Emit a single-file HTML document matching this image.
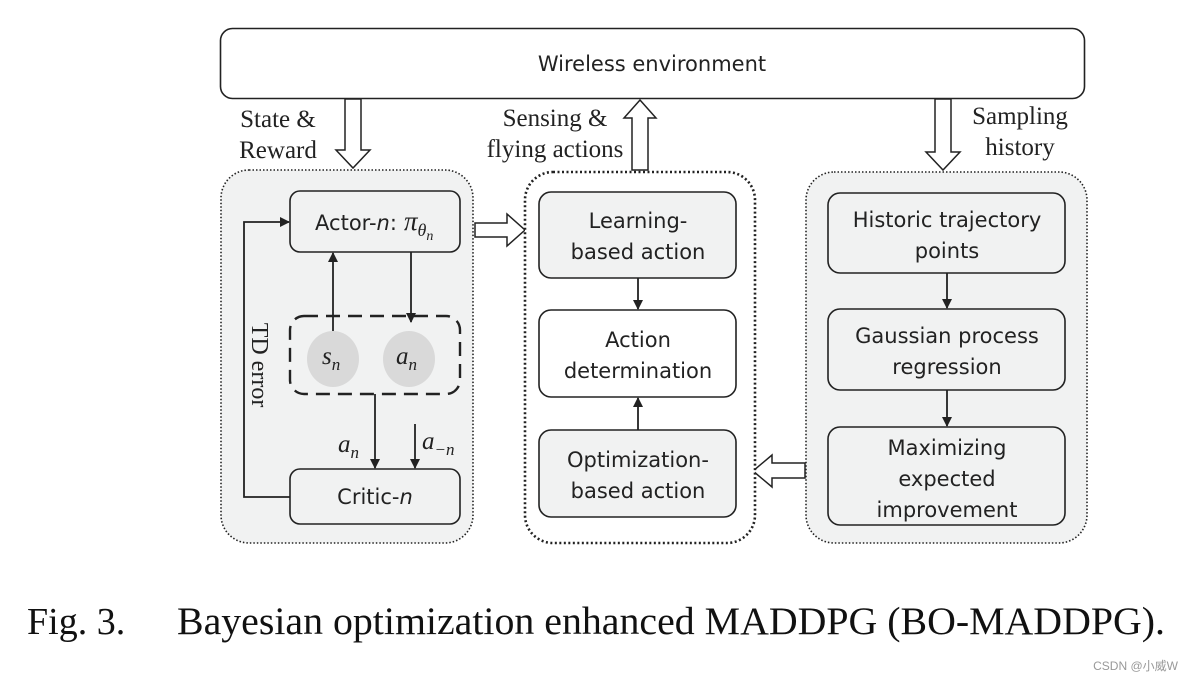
<!DOCTYPE html>
<html><head><meta charset="utf-8"><style>
html,body{margin:0;padding:0;background:#fff;}
svg{display:block}
.s{font-family:"DejaVu Sans","Liberation Sans",sans-serif;font-size:21px;fill:#222;text-anchor:middle}
.r{font-family:"Liberation Serif",serif;font-size:25px;fill:#222;text-anchor:middle}
.m{font-family:"Liberation Serif",serif;font-style:italic;font-size:25px;fill:#222}
</style></head><body>
<svg width="1192" height="682" viewBox="0 0 1192 682" xmlns="http://www.w3.org/2000/svg">
<defs><marker id="a" markerWidth="10" markerHeight="10" refX="9" refY="5" orient="auto" markerUnits="userSpaceOnUse"><path d="M0,0 L10,5 L0,10 z" fill="#222"/></marker></defs>
<rect x="220.5" y="28.5" width="864" height="70" rx="12" fill="#fff" stroke="#222" stroke-width="1.6"/>
<text class="s" x="652" y="71">Wireless environment</text>
<path d="M345,99 H361 V150 H370 L353,168 L336,150 H345 Z" fill="#fff" stroke="#222" stroke-width="1.5"/>
<path d="M632,170 H648 V118 H656 L640,100 L624,118 H632 Z" fill="#fff" stroke="#222" stroke-width="1.5"/>
<path d="M935,99 H951 V152 H960 L943,170 L926,152 H935 Z" fill="#fff" stroke="#222" stroke-width="1.5"/>
<path d="M475,223 H507 V214 L525,230 L507,246 V237 H475 Z" fill="#fff" stroke="#222" stroke-width="1.5"/>
<path d="M805,463 H772 V455 L753,471 L772,487 V478 H805 Z" fill="#fff" stroke="#222" stroke-width="1.5"/>
<text class="r" x="278" y="127">State &amp;</text>
<text class="r" x="278" y="158">Reward</text>
<text class="r" x="555" y="126">Sensing &amp;</text>
<text class="r" x="555" y="157">flying actions</text>
<text class="r" x="1020" y="124">Sampling</text>
<text class="r" x="1020" y="155">history</text>
<rect x="221" y="170" width="252" height="373" rx="28" fill="#f1f2f2" stroke="#222" stroke-width="1.6" stroke-dasharray="1.5 2"/>
<rect x="525" y="172" width="230" height="371" rx="28" fill="#fff" stroke="#222" stroke-width="2.6" stroke-dasharray="2 2.5"/>
<rect x="806" y="172" width="281" height="371" rx="28" fill="#f1f2f2" stroke="#222" stroke-width="1.6" stroke-dasharray="1.5 2"/>
<rect x="290" y="191" width="170" height="61" rx="10" fill="#f1f2f2" stroke="#222" stroke-width="1.6"/>
<text class="s" x="356" y="230">Actor-<tspan font-style="italic">n</tspan>:</text>
<text class="m" x="404" y="230" style="font-size:27px">π<tspan font-size="18" dy="6">θ</tspan><tspan font-size="14" dy="4">n</tspan></text>
<rect x="290" y="316" width="170" height="78" rx="14" fill="none" stroke="#222" stroke-width="2.4" stroke-dasharray="14 8"/>
<ellipse cx="333" cy="359" rx="26" ry="28" fill="#d9d9d9"/>
<ellipse cx="409" cy="359" rx="26" ry="28" fill="#d9d9d9"/>
<text class="m" x="322" y="364">s<tspan font-size="17" dy="6">n</tspan></text>
<text class="m" x="396" y="364">a<tspan font-size="17" dy="6">n</tspan></text>
<rect x="290" y="469" width="170" height="55" rx="10" fill="#f1f2f2" stroke="#222" stroke-width="1.6"/>
<text class="s" x="375" y="504">Critic-<tspan font-style="italic">n</tspan></text>
<g stroke="#222" stroke-width="1.8" fill="none">
<line x1="333" y1="331" x2="333" y2="253" marker-end="url(#a)"/>
<line x1="411" y1="252" x2="411" y2="322" marker-end="url(#a)"/>
<line x1="375" y1="394" x2="375" y2="468" marker-end="url(#a)"/>
<line x1="415" y1="424" x2="415" y2="468" marker-end="url(#a)"/>
<polyline points="290,497 244,497 244,222 289,222" marker-end="url(#a)"/>
</g>
<text class="m" x="338" y="452">a<tspan font-size="17" dy="6">n</tspan></text>
<text class="m" x="422" y="449">a<tspan font-size="17" dy="6">−n</tspan></text>
<text class="r" transform="translate(252,365) rotate(90)" x="0" y="0" style="font-size:24px">TD error</text>
<rect x="539" y="192" width="197" height="86" rx="12" fill="#f1f2f2" stroke="#222" stroke-width="1.6"/>
<text class="s" x="638" y="228">Learning-</text><text class="s" x="638" y="259">based action</text>
<rect x="539" y="310" width="197" height="87" rx="12" fill="#fff" stroke="#222" stroke-width="1.6"/>
<text class="s" x="638" y="347">Action</text><text class="s" x="638" y="378">determination</text>
<rect x="539" y="430" width="197" height="87" rx="12" fill="#f1f2f2" stroke="#222" stroke-width="1.6"/>
<text class="s" x="638" y="467">Optimization-</text><text class="s" x="638" y="498">based action</text>
<g stroke="#222" stroke-width="1.8"><line x1="638" y1="278" x2="638" y2="309" marker-end="url(#a)"/><line x1="638" y1="430" x2="638" y2="398" marker-end="url(#a)"/>
<line x1="947" y1="273" x2="947" y2="308" marker-end="url(#a)"/><line x1="947" y1="390" x2="947" y2="426" marker-end="url(#a)"/></g>
<rect x="828" y="193" width="237" height="80" rx="12" fill="#f1f2f2" stroke="#222" stroke-width="1.6"/>
<text class="s" x="947" y="227">Historic trajectory</text><text class="s" x="947" y="258">points</text>
<rect x="828" y="309" width="237" height="81" rx="12" fill="#f1f2f2" stroke="#222" stroke-width="1.6"/>
<text class="s" x="947" y="343">Gaussian process</text><text class="s" x="947" y="374">regression</text>
<rect x="828" y="427" width="237" height="98" rx="12" fill="#f1f2f2" stroke="#222" stroke-width="1.6"/>
<text class="s" x="947" y="455">Maximizing</text><text class="s" x="947" y="486">expected</text><text class="s" x="947" y="517">improvement</text>
<text x="27" y="634" style="font-family:'Liberation Serif',serif;font-size:38px;fill:#111">Fig. 3.</text>
<text x="177" y="634" textLength="988" lengthAdjust="spacingAndGlyphs" style="font-family:'Liberation Serif',serif;font-size:39px;fill:#111">Bayesian optimization enhanced MADDPG (BO-MADDPG).</text>
<text x="1178" y="670" text-anchor="end" style="font-family:'Liberation Sans','Noto Sans CJK SC',sans-serif;font-size:12px;fill:#999">CSDN @小威W</text>
</svg>
</body></html>
